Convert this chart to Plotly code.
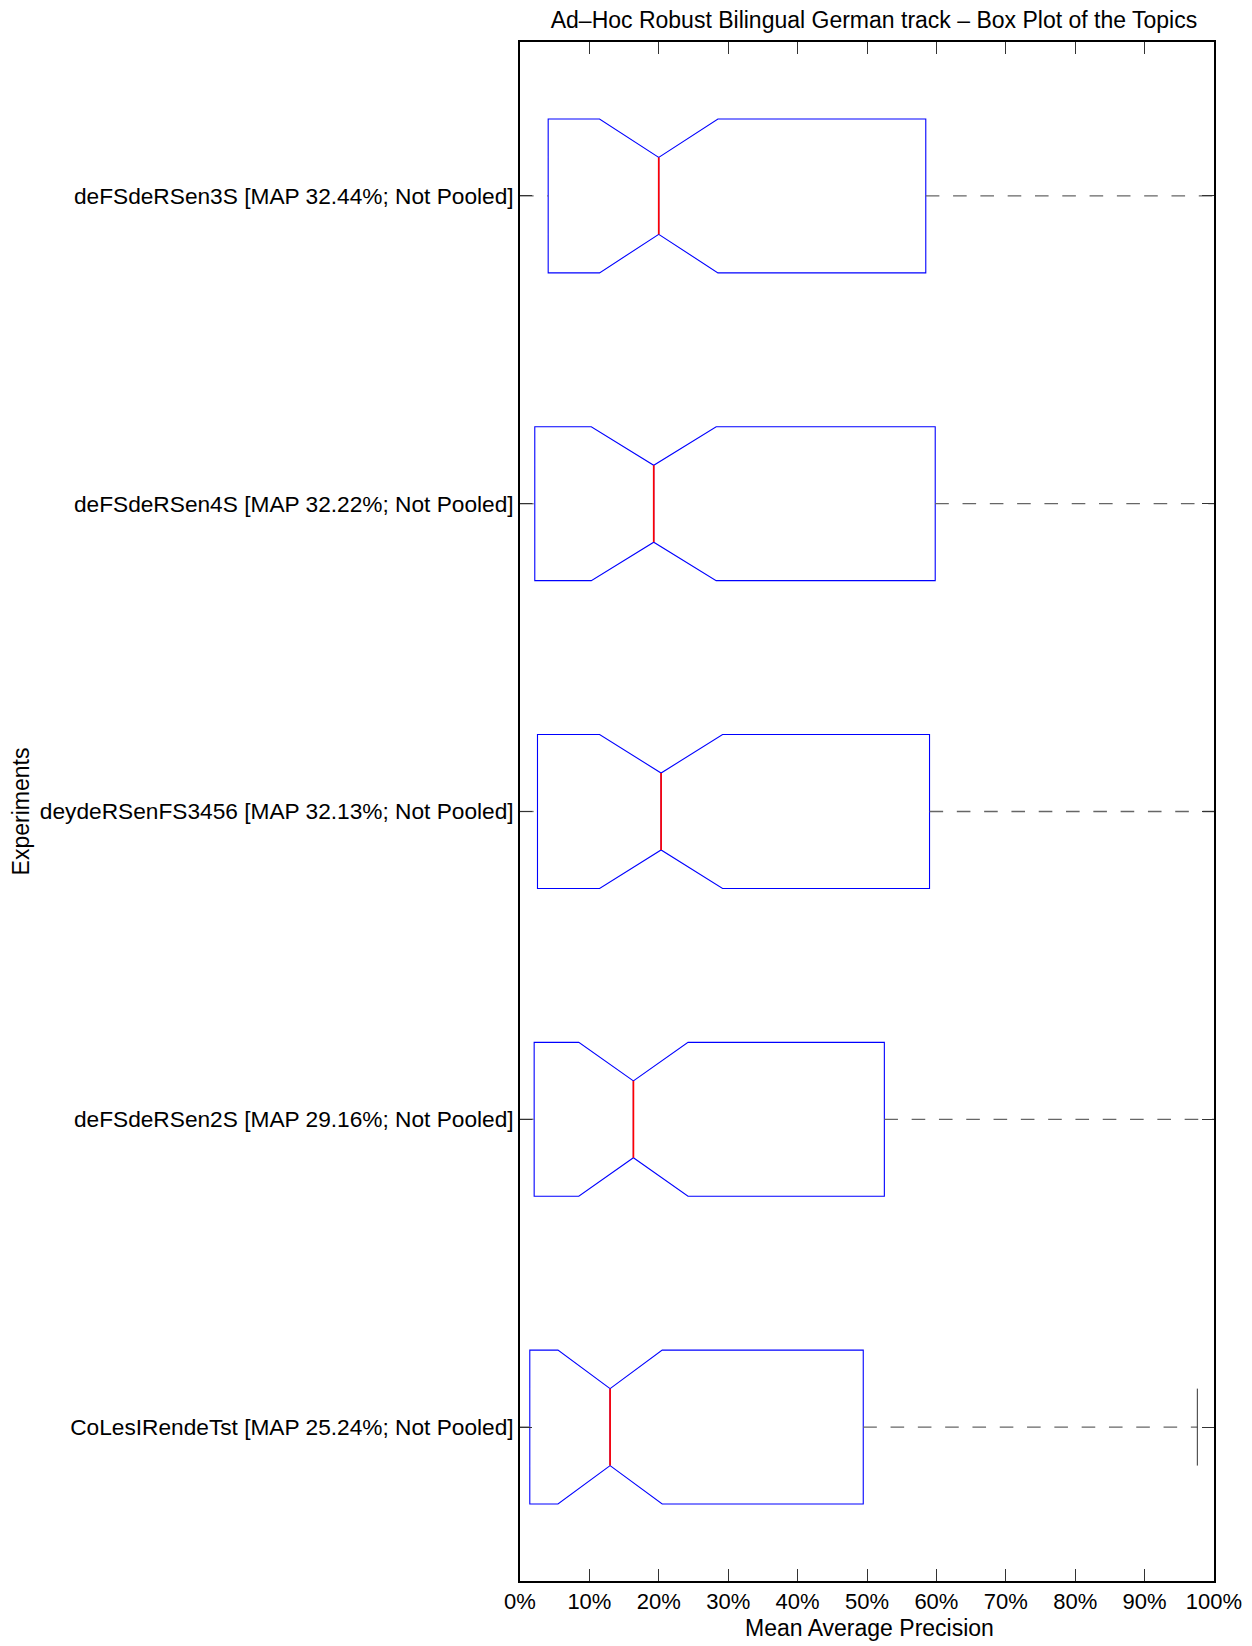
import plotly.graph_objects as go

# Experiments, bottom to top
experiments = [
    "CoLesIRendeTst [MAP 25.24%; Not Pooled]",
    "deFSdeRSen2S [MAP 29.16%; Not Pooled]",
    "deydeRSenFS3456 [MAP 32.13%; Not Pooled]",
    "deFSdeRSen4S [MAP 32.22%; Not Pooled]",
    "deFSdeRSen3S [MAP 32.44%; Not Pooled]",
]
# Box statistics (percent)
q1_vals = [1.41, 2.04, 2.52, 2.13, 4.06]
median_vals = [12.98, 16.34, 20.33, 19.27, 19.99]
q3_vals = [49.46, 52.5, 59.01, 59.83, 58.47]
notch_half = [7.51, 7.87, 8.86, 9.0, 8.53]
lower_whisker = [0.0, 0.0, 0.0, 0.0, 0.0]
upper_whisker = [97.6, 100.0, 100.0, 100.0, 100.0]

x_ticks = list(range(0, 101, 10))
x_ticklabels = [f"{v}%" for v in x_ticks]

FONT = "Liberation Sans, Arial, sans-serif"
BOX_W = 0.5
CAP_W = 0.25
X_RANGE = [0, 100]
FIG_W, FIG_H = 1236, 1638

pos = list(range(len(experiments)))

fig = go.Figure()

# whiskers (dashed)
for i in pos:
    fig.add_trace(go.Scatter(
        x=[q3_vals[i], upper_whisker[i]], y=[i, i], mode="lines",
        line=dict(color="#666666", width=1.3, dash="13.6px,13.7px"),
        hoverinfo="skip", showlegend=False))
    fig.add_trace(go.Scatter(
        x=[lower_whisker[i], q1_vals[i]], y=[i, i], mode="lines",
        line=dict(color="#666666", width=1.3, dash="13.6px,13.7px"),
        hoverinfo="skip", showlegend=False))
    # caps (those on the frame are hidden by the axis line)
    for w in (upper_whisker[i], lower_whisker[i]):
        if X_RANGE[0] < w < X_RANGE[1]:
            fig.add_trace(go.Scatter(
                x=[w, w], y=[i - CAP_W / 2, i + CAP_W / 2], mode="lines",
                line=dict(color="#333333", width=1),
                hoverinfo="skip", showlegend=False))

# notched boxes
fig.add_trace(go.Box(
    orientation="h",
    y=pos,
    q1=q1_vals, median=median_vals, q3=q3_vals,
    lowerfence=q1_vals, upperfence=q3_vals,
    notchspan=notch_half,
    notched=True, notchwidth=0.25,
    width=BOX_W, whiskerwidth=0,
    boxpoints=False,
    line=dict(color="#0000ff", width=1.1),
    fillcolor="rgba(0,0,0,0)",
    hoverinfo="skip", showlegend=False))

# red medians
for i in pos:
    fig.add_trace(go.Scatter(
        x=[median_vals[i], median_vals[i]],
        y=[i - BOX_W / 4, i + BOX_W / 4], mode="lines",
        line=dict(color="#ff0000", width=1.7),
        hoverinfo="skip", showlegend=False))

axis_common = dict(
    showline=True, linecolor="black", linewidth=1.6, mirror="ticks",
    ticks="inside", ticklen=12, tickwidth=1.2, tickcolor="#333333",
    showgrid=False, zeroline=False, automargin=False,
)

fig.update_layout(
    template="none",
    width=FIG_W, height=FIG_H,
    margin=dict(l=512, r=30, t=34, b=65, autoexpand=False),
    paper_bgcolor="white", plot_bgcolor="white",
    font=dict(family=FONT, size=22, color="black"),
    title=dict(text="Ad\u2013Hoc Robust Bilingual German track \u2013 Box Plot of the Topics",
               x=0.51, xref="paper", xanchor="center",
               y=1 - 12 / FIG_H, yref="container", yanchor="middle",
               automargin=False,
               font=dict(family=FONT, size=23, color="black")),
    xaxis=dict(range=X_RANGE, tickvals=x_ticks, ticktext=x_ticklabels,
               tickfont=dict(family=FONT, size=22, color="black"),
               **axis_common),
    yaxis=dict(range=[-0.5, len(experiments) - 0.5], tickvals=pos, ticktext=experiments,
               tickfont=dict(family=FONT, size=22.7, color="black"),
               title=dict(text="Experiments", standoff=10,
                          font=dict(family=FONT, size=23, color="black")),
               **axis_common),
    annotations=[dict(text="Mean Average Precision", xref="paper", yref="paper",
                      x=0.503, y=0, xanchor="center", yanchor="middle",
                      yshift=-47, showarrow=False,
                      font=dict(family=FONT, size=23, color="black"))],
)

fig.write_html("out.html")
